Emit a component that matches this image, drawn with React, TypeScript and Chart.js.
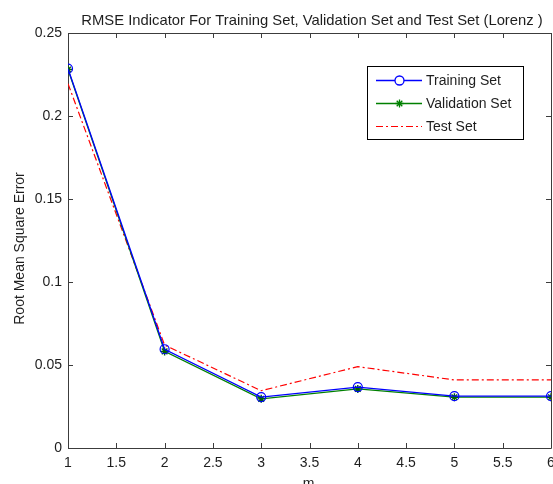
import React, { useEffect, useRef } from "react";
import { Chart, registerables } from "chart.js";

Chart.register(...registerables);

// ---- data ----
const mValues = [1, 2, 3, 4, 5, 6];
const trainingRmse = [0.2285, 0.0595, 0.0307, 0.0367, 0.0312, 0.0312];
const validationRmse = [0.228, 0.0582, 0.0296, 0.0356, 0.0306, 0.0306];
const testRmse = [0.2195, 0.062, 0.0345, 0.049, 0.041, 0.041];

const seriesLabels = ["Training Set", "Validation Set", "Test Set"];
const titleText = "RMSE Indicator For Training Set, Validation Set and Test Set (Lorenz )";
const xAxisLabel = "m";
const yAxisLabel = "Root Mean Square Error";

const xMin = 1;
const xMax = 6;
const xStep = 0.5;
const yMin = 0;
const yMax = 0.25;
const yStep = 0.05;

const FONT_FAMILY = '"Liberation Sans", Arial, Helvetica, sans-serif';
const AXIS_COLOR = "#3c3c3c";
const TEXT_COLOR = "#1e1e1e";

const toPoints = (ys: number[]) => mValues.map((m, i) => ({ x: m, y: ys[i] }));

const fmt = (v: number) => String(Number(Number(v).toFixed(4)));

const matlabPlugin = {
  id: "matlabDecor",
  beforeDatasetsDraw(chart: any) {
    const { ctx, chartArea } = chart;
    const { left, right, top, bottom } = chartArea;
    const xs = chart.scales.x;
    const ys = chart.scales.y;
    ctx.save();
    ctx.strokeStyle = AXIS_COLOR;
    ctx.lineWidth = 1;
    ctx.beginPath();
    ctx.rect(Math.round(left) + 0.5, Math.round(top) + 0.5, Math.round(right - left), Math.round(bottom - top));
    ctx.stroke();
    const tl = 5;
    ctx.beginPath();
    xs.ticks.forEach((t: any) => {
      const px = Math.round(xs.getPixelForValue(t.value)) + 0.5;
      ctx.moveTo(px, bottom);
      ctx.lineTo(px, bottom - tl);
      ctx.moveTo(px, top);
      ctx.lineTo(px, top + tl);
    });
    ys.ticks.forEach((t: any) => {
      const py = Math.round(ys.getPixelForValue(t.value)) + 0.5;
      ctx.moveTo(left, py);
      ctx.lineTo(left + tl, py);
      ctx.moveTo(right, py);
      ctx.lineTo(right - tl, py);
    });
    ctx.stroke();
    ctx.restore();
  },
  afterDraw(chart: any) {
    const { ctx, chartArea } = chart;
    const { left, right, top, bottom } = chartArea;
    const cx = (left + right) / 2;
    ctx.save();
    ctx.fillStyle = TEXT_COLOR;
    // title
    ctx.font = `14.8px ${FONT_FAMILY}`;
    ctx.textAlign = "center";
    ctx.textBaseline = "alphabetic";
    ctx.fillText(titleText, 312, 25);
    ctx.font = `14px ${FONT_FAMILY}`;
    // x label
    ctx.fillText(xAxisLabel, cx - 1, 488);
    // y label
    ctx.save();
    ctx.translate(24, (top + bottom) / 2 + 8);
    ctx.rotate(-Math.PI / 2);
    ctx.fillText(yAxisLabel, 0, 0);
    ctx.restore();

    // legend
    const bx = 367, by = 66, bw = 156, bh = 73;
    ctx.fillStyle = "#ffffff";
    ctx.fillRect(bx, by, bw, bh);
    ctx.strokeStyle = "#000000";
    ctx.lineWidth = 1;
    ctx.strokeRect(bx + 0.5, by + 0.5, bw, bh);
    const rowY = [80, 103, 126];
    chart.data.datasets.forEach((ds: any, i: number) => {
      const y = rowY[i] + 0.5;
      ctx.save();
      ctx.strokeStyle = ds.borderColor;
      ctx.lineWidth = ds.borderWidth || 1;
      ctx.setLineDash(ds.borderDash || []);
      ctx.beginPath();
      ctx.moveTo(376, y);
      ctx.lineTo(422, y);
      ctx.stroke();
      ctx.setLineDash([]);
      const mx = 399.5;
      if (ds.pointStyle === "circle" && ds.pointRadius > 0) {
        ctx.beginPath();
        ctx.arc(mx, y, ds.pointRadius, 0, Math.PI * 2);
        ctx.fillStyle = "#ffffff";
        ctx.fill();
        ctx.stroke();
      } else if (ds.pointStyle === "star" && ds.pointRadius > 0) {
        const r = ds.pointRadius;
        ctx.beginPath();
        ctx.moveTo(mx, y - r); ctx.lineTo(mx, y + r);
        ctx.moveTo(mx - r, y); ctx.lineTo(mx + r, y);
        const d = r * 0.7;
        ctx.moveTo(mx - d, y - d); ctx.lineTo(mx + d, y + d);
        ctx.moveTo(mx - d, y + d); ctx.lineTo(mx + d, y - d);
        ctx.stroke();
      }
      ctx.restore();
      ctx.fillStyle = TEXT_COLOR;
      ctx.textAlign = "left";
      ctx.textBaseline = "middle";
      ctx.font = `14px ${FONT_FAMILY}`;
      ctx.fillText(ds.label, 426, rowY[i] + 1);
    });
    ctx.restore();
  },
};

export default function App() {
  const canvasRef = useRef<HTMLCanvasElement | null>(null);

  useEffect(() => {
    const canvas = canvasRef.current;
    if (!canvas) return;
    const chart = new Chart(canvas, {
      type: "line",
      data: {
        datasets: [
          {
            label: seriesLabels[0],
            data: toPoints(trainingRmse),
            borderColor: "#0000ff",
            backgroundColor: "rgba(0,0,0,0)",
            borderWidth: 1.3,
            pointStyle: "circle",
            pointRadius: 4.5,
            pointBorderWidth: 1.2,
            pointBackgroundColor: "rgba(0,0,0,0)",
            pointBorderColor: "#0000ff",
            tension: 0,
            fill: false,
          },
          {
            label: seriesLabels[1],
            data: toPoints(validationRmse),
            borderColor: "#008000",
            backgroundColor: "rgba(0,0,0,0)",
            borderWidth: 1.3,
            pointStyle: "star",
            pointRadius: 4,
            pointBorderWidth: 1.4,
            pointBackgroundColor: "#006000",
            pointBorderColor: "#006000",
            tension: 0,
            fill: false,
          },
          {
            label: seriesLabels[2],
            data: toPoints(testRmse),
            borderColor: "#ff0000",
            backgroundColor: "rgba(0,0,0,0)",
            borderWidth: 1.2,
            borderDash: [7, 3, 2, 3],
            pointRadius: 0,
            pointStyle: "line",
            tension: 0,
            fill: false,
          },
        ],
      },
      options: {
        animation: false,
        responsive: false,
        devicePixelRatio: 1,
        events: [],
        layout: { autoPadding: false, padding: { top: 33, right: 2, left: 0, bottom: 0 } },
        plugins: {
          legend: { display: false },
          title: { display: false },
          tooltip: { enabled: false },
        },
        scales: {
          x: {
            type: "linear",
            min: xMin,
            max: xMax,
            grid: { display: false, drawTicks: false },
            border: { display: false },
            ticks: {
              stepSize: xStep,
              padding: 7,
              color: TEXT_COLOR,
              font: { family: FONT_FAMILY, size: 14 },
              maxRotation: 0,
              autoSkip: false,
              callback: (v: any) => fmt(v),
            },
            afterFit: (s: any) => {
              s.height = 36;
              s.paddingLeft = 0;
              s.paddingRight = 0;
            },
          },
          y: {
            type: "linear",
            min: yMin,
            max: yMax,
            grid: { display: false, drawTicks: false },
            border: { display: false },
            ticks: {
              stepSize: yStep,
              padding: 6,
              color: TEXT_COLOR,
              font: { family: FONT_FAMILY, size: 14 },
              autoSkip: false,
              callback: (v: any) => fmt(v),
            },
            afterFit: (s: any) => {
              s.width = 68;
              s.paddingTop = 0;
              s.paddingBottom = 0;
            },
          },
        },
      },
      plugins: [matlabPlugin],
    });
    return () => chart.destroy();
  }, []);

  return (
    <div style={{ position: "absolute", left: 0, top: 0, width: 553, height: 484, background: "#fff" }}>
      <canvas ref={canvasRef} width={553} height={484} />
    </div>
  );
}
